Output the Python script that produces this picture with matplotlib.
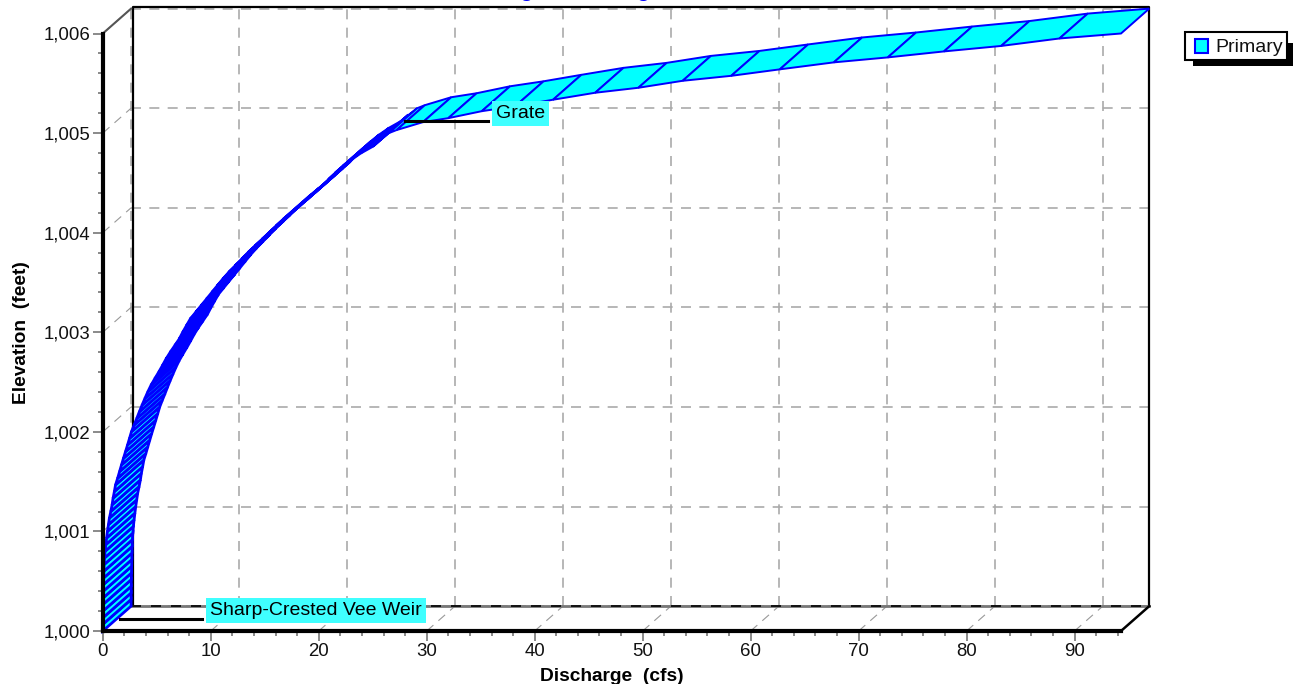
import matplotlib
matplotlib.use('Agg')
import matplotlib.pyplot as plt
from matplotlib.patches import Rectangle
from matplotlib.ticker import FuncFormatter, MultipleLocator

plt.rcParams['font.family'] = ['Liberation Sans', 'DejaVu Sans']

# front edge of the rating ribbon, feet above 1000 and cfs
elevation = [0, .067, .133, .2, .267, .333, .4, .467, .533, .6, .667, .733, .8, .867, .933,
             1.0, 1.067, 1.133, 1.2, 1.267, 1.333, 1.4, 1.467, 1.533, 1.6, 1.667, 1.733, 1.8, 1.867, 1.933,
             2.0, 2.067, 2.133, 2.2, 2.267, 2.333, 2.4, 2.467, 2.533, 2.6, 2.667, 2.733, 2.8, 2.867, 2.933,
             3.0, 3.067, 3.133, 3.2, 3.267, 3.333, 3.4, 3.467, 3.533, 3.6, 3.667, 3.733, 3.8, 3.867, 3.933,
             4.0, 4.067, 4.133, 4.2, 4.267, 4.333, 4.4, 4.467, 4.533, 4.6, 4.667, 4.733, 4.8, 4.867, 4.933,
             5.0, 5.03, 5.11, 5.15, 5.22, 5.27, 5.335, 5.405, 5.455, 5.525, 5.575, 5.64, 5.71, 5.76, 5.82, 5.875, 5.95, 6.0]
discharge = [0, 0, .008, .015, .023, .037, .05, .065, .08, .10, .12, .16, .21, .28, .35,
             .43, .52, .61, .74, .86, .95, 1.07, 1.18, 1.37, 1.55, 1.73, 1.91, 2.10, 2.29, 2.47,
             2.65, 2.89, 3.14, 3.38, 3.63, 3.89, 4.16, 4.46, 4.81, 5.18, 5.53, 5.86, 6.25, 6.67, 7.08,
             7.40, 7.75, 8.10, 8.60, 9.10, 9.60, 10.1, 10.6, 11.1, 11.65, 12.25, 12.85, 13.45, 14.1, 14.75,
             15.4, 16.05, 16.7, 17.45, 18.2, 18.9, 19.6, 20.3, 20.9, 21.55, 22.25, 23.0, 23.9, 25.0, 25.7,
             26.5, 27.2, 29.65, 32.0, 35.1, 38.2, 41.7, 45.6, 49.6, 53.7, 58.2, 62.7, 67.7, 72.7, 77.9, 83.2, 88.6, 94.3]

x_ticks = [0, 10, 20, 30, 40, 50, 60, 70, 80, 90]
y_ticks = [1000, 1001, 1002, 1003, 1004, 1005, 1006]
x_max = 94.3

# 3d look: the back wall sits this far up and to the right of the front
depth_x = 2.62
depth_y = 0.25

fig = plt.figure(figsize=(12.94, 6.84), dpi=100)
ax = fig.add_axes([102.8 / 1294, 53 / 684, 1018.2 / 1294, 597.5 / 684])
ax.set_xlim(0, x_max)
ax.set_ylim(1000, 1006)

grid_color = '#aaaaaa'
for t in x_ticks:
    ax.plot([t + depth_x, t + depth_x], [1000 + depth_y, 1006 + depth_y], color=grid_color, lw=1.2,
            dashes=(6, 5), clip_on=False, zorder=1)
    ax.plot([t, t + depth_x], [1000, 1000 + depth_y], color='#999999', lw=0.8, dashes=(8, 6), clip_on=False, zorder=1)
for t in y_ticks:
    ax.plot([depth_x, x_max + depth_x], [t + depth_y, t + depth_y], color=grid_color, lw=1.2,
            dashes=(6, 5), clip_on=False, zorder=1)
    ax.plot([0, depth_x], [t, t + depth_y], color='#999999', lw=0.8, dashes=(8, 6), clip_on=False, zorder=1)

# back wall and the box edges
bx = [depth_x + 0.18, depth_x + 0.18, x_max + depth_x, x_max + depth_x]
by = [1000 + depth_y, 1006 + depth_y + 0.02, 1006 + depth_y + 0.02, 1000 + depth_y]
ax.plot(bx, by, color='black', lw=1.6, clip_on=False, zorder=2)
ax.plot([depth_x, x_max + depth_x], [1000 + depth_y, 1000 + depth_y], color='#777777', lw=2, clip_on=False, zorder=2)
ax.plot([depth_x, x_max + depth_x], [1000 + depth_y, 1000 + depth_y], color='black', lw=1.2, dashes=(6, 6),
        clip_on=False, zorder=2)
ax.plot([x_max, x_max + depth_x], [1000, 1000 + depth_y], color='black', lw=1.8, clip_on=False, zorder=2)
ax.plot([0, depth_x], [1006, 1006 + depth_y], color='#555555', lw=1.5, clip_on=False, zorder=2)

# the ribbon, one cell per rating step; lines look heavier below the grate
for i in range(len(elevation) - 1):
    q0, q1 = discharge[i], discharge[i + 1]
    e0, e1 = 1000 + elevation[i], 1000 + elevation[i + 1]
    ax.fill([q0, q1, q1 + depth_x, q0 + depth_x], [e0, e1, e1 + depth_y, e0 + depth_y],
            facecolor='#00ffff', edgecolor='#0000ff', lw=2.0 if elevation[i] < 4.9 else 1.4, clip_on=False, zorder=3)

label_box = dict(facecolor='#40ffff', edgecolor='none', pad=3.0)
ax.plot([1.6, 9.2], [1000.125, 1000.125], color='black', lw=2.2, clip_on=False, zorder=4)
ax.text(9.95, 1000.205, 'Sharp-Crested Vee Weir', fontsize=14, va='center', ha='left', bbox=label_box, zorder=5)
ax.plot([28.0, 35.7], [1005.12, 1005.12], color='black', lw=2.2, clip_on=False, zorder=4)
ax.text(36.4, 1005.195, 'Grate', fontsize=14, va='center', ha='left', bbox=label_box, zorder=5)

ax.spines['top'].set_visible(False)
ax.spines['right'].set_visible(False)
ax.spines['left'].set_linewidth(3)
ax.spines['bottom'].set_linewidth(3)
ax.patch.set_alpha(0)
for s in ax.spines.values():
    s.set_zorder(6)

ax.xaxis.set_major_locator(MultipleLocator(10))
ax.xaxis.set_minor_locator(MultipleLocator(2))
ax.yaxis.set_major_locator(MultipleLocator(1))
ax.yaxis.set_minor_locator(MultipleLocator(0.2))
ax.yaxis.set_major_formatter(FuncFormatter(lambda v, p: f'{int(v):,}'))
ax.tick_params(which='major', length=7, width=1.2, color='#777777', labelsize=13.4, pad=2, labelcolor='#111111')
ax.tick_params(which='minor', length=3.5, width=1.2, color='#777777')
ax.set_xlabel('Discharge  (cfs)', fontweight='bold', fontsize=13.8, labelpad=5.5)
ax.set_ylabel('Elevation  (feet)', fontweight='bold', fontsize=13.8, labelpad=10)

fig.text(574 / 1294, 0.9985, 'Stage-Discharge', color='#0000ff', fontsize=16.3, fontweight='bold', ha='center', va='bottom')


def px_rect(x0, y0, x1, y1, **kw):
    # rectangle given in picture pixels, top-left origin
    fig.add_artist(Rectangle((x0 / 1294, 1 - y1 / 684), (x1 - x0) / 1294, (y1 - y0) / 684,
                             transform=fig.transFigure, **kw))


# legend box with its hard shadow
px_rect(1193, 43, 1293, 66, facecolor='black', edgecolor='none')
px_rect(1185, 32, 1286.5, 60, facecolor='white', edgecolor='black', lw=1.5)
px_rect(1195, 39, 1208, 53, facecolor='#00ffff', edgecolor='#0000ff', lw=1.5)
fig.text(1215 / 1294, 1 - 48 / 684, 'Primary', fontsize=14, va='center', ha='left', color='#111111')

fig.savefig('out.png', dpi=100)
